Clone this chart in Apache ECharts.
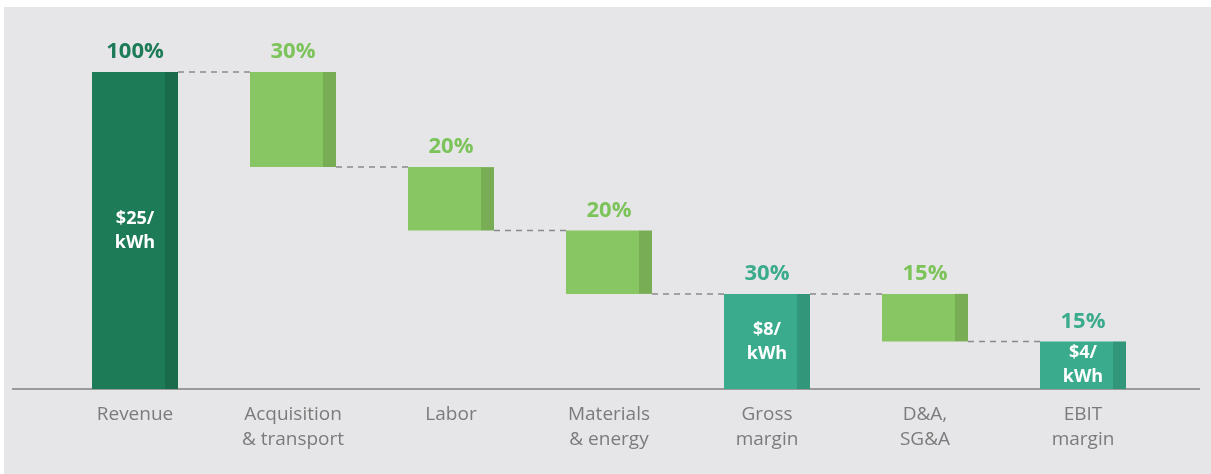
<!DOCTYPE html>
<html>
<head>
<meta charset="utf-8">
<script src="https://cdn.jsdelivr.net/npm/echarts@6/dist/echarts.min.js"></script>
<style>
  html, body { margin: 0; padding: 0; background: #ffffff; }
  #chart { position: absolute; left: 4px; top: 7px; width: 1207px; height: 467px; background: #e6e6e8; }
</style>
</head>
<body>
<div id="chart"></div>
<script>
// ---- data ----
var categories = ['Revenue', 'Acquisition\n& transport', 'Labor', 'Materials\n& energy', 'Gross\nmargin', 'D&A,\nSG&A', 'EBIT\nmargin'];
var shares = [100, 30, 20, 20, 30, 15, 15];
var kinds = ['revenue', 'cost', 'cost', 'cost', 'total', 'cost', 'total'];
var pctLabels = ['100%', '30%', '20%', '20%', '30%', '15%', '15%'];
var innerLabels = ['$25/\nkWh', '', '', '', '$8/\nkWh', '', '$4/\nkWh'];

// ---- styles ----
var palette = {
  revenue: { main: '#1e7b58', side: '#1a6a4c', label: '#1e7b58' },
  cost:    { main: '#88c563', side: '#79ad55', label: '#7cc35a' },
  total:   { main: '#3aab8c', side: '#32977a', label: '#3aab8c' }
};
var BAR_W = 86, SIDE_W = 13;

// build waterfall ranges
var bars = [];
var connectors = [];
var level = 0;
for (var i = 0; i < shares.length; i++) {
  var lo, hi;
  if (kinds[i] === 'cost') { hi = level; lo = level - shares[i]; level = lo; }
  else { lo = 0; hi = shares[i]; level = hi; }
  bars.push([i, lo, hi]);
  if (i < shares.length - 1) connectors.push([i, level]);
}

var chart = echarts.init(document.getElementById('chart'));
chart.setOption({
  backgroundColor: '#e6e6e8',
  animation: false,
  grid: { left: 52, right: 49, top: 65, bottom: 85 },
  xAxis: {
    type: 'category',
    data: categories,
    axisLine: { show: false },
    axisTick: { show: false },
    axisLabel: {
      color: '#7b7b7b', fontSize: 19, lineHeight: 25, margin: 13,
      fontFamily: 'Open Sans', interval: 0
    }
  },
  yAxis: { type: 'value', min: 0, max: 100, show: false, splitLine: { show: false } },
  graphic: [{
    type: 'line', shape: { x1: 8, y1: 382, x2: 1196, y2: 382 },
    style: { stroke: '#9a9a9a', lineWidth: 2 }, z: 1
  }],
  series: [
    {
      type: 'custom',
      data: connectors,
      z: 2,
      renderItem: function (params, api) {
        var i = api.value(0), v = api.value(1);
        var p1 = api.coord([i, v]);
        var p2 = api.coord([i + 1, v]);
        return {
          type: 'line',
          shape: { x1: p1[0] + BAR_W / 2, y1: p1[1], x2: p2[0] - BAR_W / 2, y2: p2[1] },
          style: { stroke: '#8a8a8a', lineWidth: 1.5, lineDash: [6, 5] }
        };
      }
    },
    {
      type: 'custom',
      data: bars,
      z: 3,
      renderItem: function (params, api) {
        var i = api.value(0), lo = api.value(1), hi = api.value(2);
        var pTop = api.coord([i, hi]);
        var pBot = api.coord([i, lo]);
        var cx = pTop[0];
        var x0 = cx - BAR_W / 2;
        var h = pBot[1] - pTop[1];
        var c = palette[kinds[i]];
        var children = [
          { type: 'rect', shape: { x: x0, y: pTop[1], width: BAR_W - SIDE_W, height: h }, style: { fill: c.main } },
          { type: 'rect', shape: { x: x0 + BAR_W - SIDE_W, y: pTop[1], width: SIDE_W, height: h }, style: { fill: c.side } },
          { type: 'text', style: {
              text: pctLabels[i], x: cx, y: pTop[1] - 20, align: 'center', verticalAlign: 'middle',
              fill: c.label, font: 'bold 22px "Open Sans"'
          } }
        ];
        if (innerLabels[i]) {
          children.push({ type: 'text', style: {
            text: innerLabels[i], x: cx, y: pTop[1] + h / 2, align: 'center', verticalAlign: 'middle',
            fill: '#ffffff', font: 'bold 18px "Open Sans"', lineHeight: 24
          } });
        }
        return { type: 'group', children: children };
      }
    }
  ]
});
</script>
</body>
</html>
